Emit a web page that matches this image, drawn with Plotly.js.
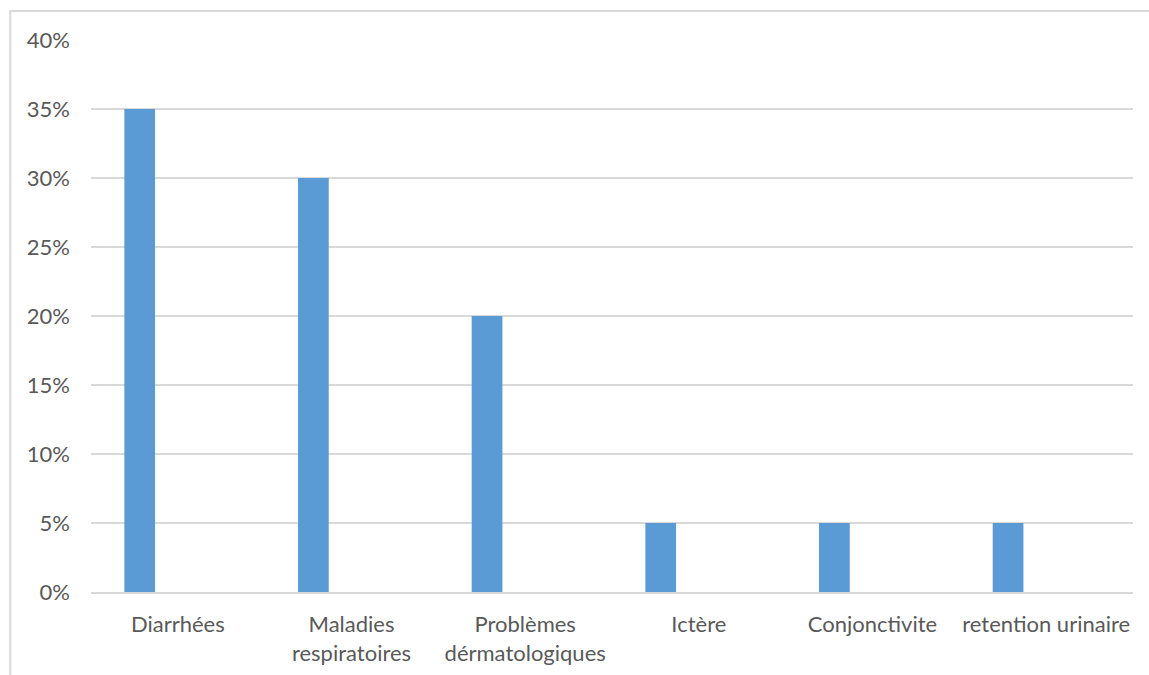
<!DOCTYPE html>
<html>
<head>
<meta charset="utf-8">
<script src="https://cdn.plot.ly/plotly-3.0.1.min.js"></script>
<style>
  html, body { margin: 0; padding: 0; background: #ffffff; }
  #chart { width: 1149px; height: 675px; }
</style>
</head>
<body>
<div id="chart"></div>
<script>
// Conditions de santé observées (part des cas)
const categories = [
  "Diarrhées",
  "Maladies<br>respiratoires",
  "Problèmes<br>dérmatologiques",
  "Ictère",
  "Conjonctivite",
  "retention urinaire"
];
const shares = [0.35, 0.30, 0.20, 0.05, 0.05, 0.05];
const yTicks = [0, 0.05, 0.10, 0.15, 0.20, 0.25, 0.30, 0.35, 0.40];

const textColor = "#595959";
const gridColor = "#d9d9d9";
const font = { family: "Lato, Calibri, 'Liberation Sans', sans-serif", size: 22, color: textColor };

const trace = {
  type: "bar",
  x: categories,
  y: shares,
  marker: { color: "#5b9bd5" },
  width: 0.177,
  offset: -0.308,
  hoverinfo: "x+y"
};

const layout = {
  width: 1149,
  height: 675,
  margin: { l: 91, r: 16, t: 40, b: 83 },
  paper_bgcolor: "#ffffff",
  plot_bgcolor: "#ffffff",
  showlegend: false,
  font: font,
  xaxis: {
    type: "category",
    showgrid: false,
    showline: true,
    linecolor: gridColor,
    linewidth: 1.5,
    ticks: "",
    tickfont: font,
    ticklabelstandoff: 12,
    fixedrange: true
  },
  yaxis: {
    range: [0, 0.4],
    tickvals: yTicks,
    tickformat: ".0%",
    showgrid: true,
    gridcolor: gridColor,
    gridwidth: 1.5,
    zeroline: false,
    showline: false,
    ticks: "",
    tickfont: font,
    ticklabelstandoff: 20,
    fixedrange: true
  },
  shapes: [{
    type: "rect",
    xref: "paper", yref: "paper",
    x0: -0.0775, x1: 1.2,
    y0: -0.3, y1: 1.0525,
    line: { color: gridColor, width: 2 },
    fillcolor: "rgba(0,0,0,0)",
    layer: "below"
  }]
};

Plotly.newPlot("chart", [trace], layout, { displayModeBar: false, staticPlot: true });
</script>
</body>
</html>
